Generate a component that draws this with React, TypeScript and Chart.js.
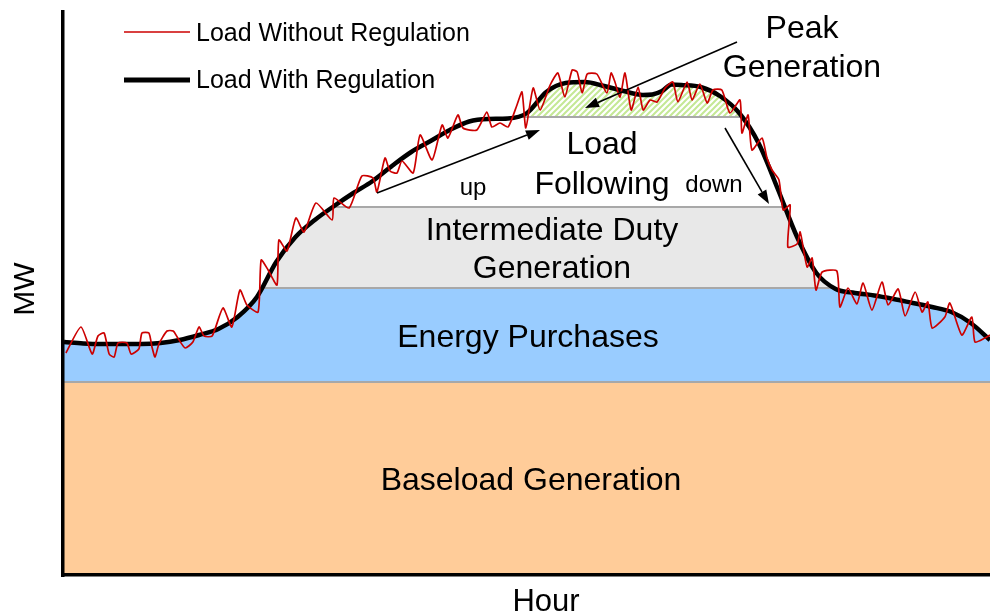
import { useEffect, useRef } from 'react';
import { Chart, registerables } from 'chart.js';

Chart.register(...registerables);

// Load with regulation (smooth), MW by hour
const hours = [0, 0.5, 1, 1.5, 2, 2.5, 3, 3.5, 4, 4.5, 5, 5.5, 6, 6.5, 7, 7.5, 8, 8.5, 9, 9.5, 10, 10.5, 11, 11.5, 12, 12.5, 13, 13.5, 14, 14.5, 15, 15.25, 15.5, 15.75, 16, 16.5, 17, 17.5, 18, 18.5, 19, 19.5, 20, 20.5, 21, 21.5, 22, 22.5, 23, 23.5, 24];
const loadWithRegulation = [466, 463, 462, 462, 462, 464, 470, 480, 492, 516, 556, 626, 676, 710, 738, 764, 788, 818, 846, 868, 890, 907, 912, 913, 924, 966, 984, 986, 978, 968, 960, 961, 968, 981, 980, 976, 958, 924, 864, 772, 676, 604, 572, 564, 559, 552, 544, 536, 526, 504, 470];

// Load without regulation (noisy)
const noisyHours = [0.05, 0.44, 0.73, 0.88, 1.04, 1.17, 1.30, 1.40, 1.63, 1.74, 1.94, 2.02, 2.20, 2.28, 2.36, 2.46, 2.67, 2.83, 2.95, 3.14, 3.34, 3.50, 3.63, 3.84, 4.12, 4.35, 4.56, 4.74, 5.03, 5.11, 5.29, 5.52, 5.57, 5.78, 6.01, 6.22, 6.53, 6.95, 7.00, 7.39, 7.72, 8.01, 8.11, 8.32, 8.45, 8.63, 8.76, 9.05, 9.23, 9.54, 9.80, 9.95, 10.21, 10.34, 10.70, 10.96, 11.09, 11.30, 11.51, 11.74, 11.87, 11.97, 12.16, 12.34, 12.60, 12.80, 12.98, 13.17, 13.30, 13.43, 13.56, 13.81, 14.07, 14.18, 14.28, 14.41, 14.54, 14.70, 14.88, 15.01, 15.19, 15.37, 15.58, 15.78, 15.91, 16.15, 16.28, 16.48, 16.67, 16.82, 17.05, 17.26, 17.52, 17.57, 17.73, 17.83, 18.09, 18.22, 18.35, 18.53, 18.64, 18.82, 18.76, 19.00, 19.08, 19.26, 19.39, 19.49, 19.65, 20.03, 20.11, 20.32, 20.55, 20.71, 20.94, 21.20, 21.36, 21.62, 21.80, 22.06, 22.24, 22.39, 22.50, 22.83, 22.96, 23.27, 23.53, 23.61, 23.87, 24.00];
const noisyLoad = [444, 496, 442, 478, 484, 442, 436, 464, 464, 442, 452, 484, 484, 456, 436, 462, 488, 488, 474, 454, 466, 496, 478, 478, 534, 496, 570, 540, 526, 630, 610, 580, 670, 648, 714, 686, 744, 710, 754, 734, 798, 794, 766, 834, 808, 804, 828, 804, 880, 830, 900, 874, 920, 894, 890, 926, 896, 904, 896, 940, 966, 894, 974, 930, 980, 1004, 956, 1010, 1006, 964, 1002, 1002, 964, 1004, 986, 956, 1004, 930, 976, 930, 950, 946, 974, 986, 946, 986, 950, 982, 944, 970, 970, 924, 950, 884, 920, 850, 874, 834, 810, 790, 730, 740, 656, 662, 686, 616, 634, 570, 606, 608, 536, 574, 542, 584, 530, 586, 540, 572, 518, 566, 526, 546, 494, 516, 544, 480, 516, 466, 474, 480];

// Generation bands: lower boundary level (MW) of each band
const bandNames = ['Baseload Generation', 'Energy Purchases', 'Intermediate Duty Generation', 'Load Following', 'Peak Generation'];
const bandLevels = [0, 386, 574, 736, 916];

const FONT = '"Liberation Sans", Arial, Helvetica, sans-serif';

function makeHatch(): CanvasPattern | string {
  const c = document.createElement('canvas');
  c.width = 6;
  c.height = 6;
  const g = c.getContext('2d');
  if (!g) return '#d8f0b0';
  g.fillStyle = '#ffffff';
  g.fillRect(0, 0, 6, 6);
  g.strokeStyle = '#c4e895';
  g.lineWidth = 2;
  g.beginPath();
  g.moveTo(-2, 8); g.lineTo(8, -2);
  g.moveTo(-2, 2); g.lineTo(2, -2);
  g.moveTo(4, 8); g.lineTo(8, 4);
  g.stroke();
  const p = g.createPattern(c, 'repeat');
  return p || '#d8f0b0';
}

function arrow(ctx: CanvasRenderingContext2D, x1: number, y1: number, x2: number, y2: number) {
  const ang = Math.atan2(y2 - y1, x2 - x1);
  const hl = 14, hw = 5;
  const bx = x2 - hl * Math.cos(ang), by = y2 - hl * Math.sin(ang);
  ctx.beginPath();
  ctx.moveTo(x1, y1);
  ctx.lineTo(bx, by);
  ctx.lineWidth = 1.6;
  ctx.strokeStyle = '#000';
  ctx.stroke();
  ctx.beginPath();
  ctx.moveTo(x2, y2);
  ctx.lineTo(bx + hw * Math.sin(ang), by - hw * Math.cos(ang));
  ctx.lineTo(bx - hw * Math.sin(ang), by + hw * Math.cos(ang));
  ctx.closePath();
  ctx.fillStyle = '#000';
  ctx.fill();
}

function text(ctx: CanvasRenderingContext2D, s: string, x: number, y: number, size: number, align: CanvasTextAlign = 'center') {
  ctx.font = `${size}px ${FONT}`;
  ctx.textAlign = align;
  ctx.textBaseline = 'alphabetic';
  ctx.fillStyle = '#000';
  ctx.fillText(s, x, y);
}

const overlayPlugin = {
  id: 'overlay',
  beforeDatasetDraw(chart: any, args: any) {
    if (args.index !== 1) return;
    const { ctx, chartArea: a, scales } = chart;
    const line = chart.getDatasetMeta(2).dataset as any;
    ctx.save();
    ctx.beginPath();
    if (line && typeof line.path === 'function') {
      line.path(ctx);
    } else {
      const pts = chart.getDatasetMeta(2).data;
      pts.forEach((p: any, i: number) => (i ? ctx.lineTo(p.x, p.y) : ctx.moveTo(p.x, p.y)));
    }
    ctx.lineTo(a.right, a.bottom);
    ctx.lineTo(a.left, a.bottom);
    ctx.closePath();
    ctx.clip();
    ctx.strokeStyle = '#a8a8a8';
    ctx.lineWidth = 2;
    for (const lv of bandLevels.slice(1)) {
      const y = scales.y.getPixelForValue(lv);
      ctx.beginPath();
      ctx.moveTo(a.left, y);
      ctx.lineTo(a.right, y);
      ctx.stroke();
    }
    ctx.restore();
  },
  afterDraw(chart: any) {
    const { ctx, chartArea: a } = chart;
    ctx.save();
    // axes
    ctx.fillStyle = '#000';
    ctx.fillRect(a.left - 3, a.top, 3.5, a.bottom - a.top + 2);
    ctx.fillRect(a.left - 3, a.bottom - 2, a.right - a.left + 3, 3.5);

    // legend
    ctx.strokeStyle = '#cc0000';
    ctx.lineWidth = 1.5;
    ctx.beginPath(); ctx.moveTo(124, 32); ctx.lineTo(190, 32); ctx.stroke();
    ctx.strokeStyle = '#000';
    ctx.lineWidth = 5;
    ctx.beginPath(); ctx.moveTo(124, 80); ctx.lineTo(190, 80); ctx.stroke();
    text(ctx, 'Load Without Regulation', 196, 41, 25, 'left');
    text(ctx, 'Load With Regulation', 196, 88, 25, 'left');

    // region labels
    text(ctx, 'Peak', 802, 38, 32);
    text(ctx, 'Generation', 802, 77, 32);
    text(ctx, 'Load', 602, 154, 32);
    text(ctx, 'Following', 602, 194, 32);
    text(ctx, 'up', 473, 195, 24);
    text(ctx, 'down', 714, 192, 24);
    text(ctx, 'Intermediate Duty', 552, 240, 32);
    text(ctx, 'Generation', 552, 278, 32);
    text(ctx, bandNames[1], 528, 347, 32);
    text(ctx, bandNames[0], 531, 490, 32);

    // axis titles
    text(ctx, 'Hour', 546, 611, 31);
    ctx.save();
    ctx.translate(34, 289);
    ctx.rotate(-Math.PI / 2);
    text(ctx, 'MW', 0, 0, 30);
    ctx.restore();

    // arrows
    arrow(ctx, 377, 193, 540, 130);
    arrow(ctx, 725, 128, 769, 204);
    arrow(ctx, 737, 42, 585, 108);
    ctx.restore();
  },
};

export default function App() {
  const ref = useRef<HTMLCanvasElement>(null);

  useEffect(() => {
    const canvas = ref.current;
    if (!canvas) return;
    const hatch = makeHatch();
    const loadPts = () => hours.map((h, i) => ({ x: h, y: loadWithRegulation[i] }));
    const noisyPts = noisyHours.map((h, i) => ({ x: h, y: noisyLoad[i] }));
    const clear = 'rgba(0,0,0,0)';
    const bandFill = (level: number, color: any, order: number) => ({
      type: 'line' as const,
      label: 'band' + order,
      data: loadPts(),
      borderWidth: 0,
      borderColor: clear,
      backgroundColor: clear,
      pointRadius: 0,
      cubicInterpolationMode: 'monotone' as const,
      fill: { target: { value: level }, above: color, below: clear },
      order,
    });

    const chart = new Chart(canvas, {
      type: 'line',
      data: {
        datasets: [
          {
            label: 'Load Without Regulation',
            data: noisyPts,
            borderColor: '#cc0000',
            borderWidth: 1.7,
            pointRadius: 0,
            tension: 0.2,
            fill: false,
            order: 0,
          },
          {
            label: 'Load With Regulation',
            data: loadPts(),
            borderColor: '#000000',
            borderWidth: 4.5,
            pointRadius: 0,
            cubicInterpolationMode: 'monotone',
            fill: false,
            order: 1,
          },
          bandFill(bandLevels[4], hatch, 2),
          bandFill(bandLevels[3], '#ffffff', 3),
          bandFill(bandLevels[2], '#e8e8e8', 4),
          bandFill(bandLevels[1], '#99ccff', 5),
          {
            label: bandNames[0],
            data: [{ x: 0, y: bandLevels[1] }, { x: 24, y: bandLevels[1] }],
            borderColor: '#a8a8a8',
            borderWidth: 1.5,
            backgroundColor: '#ffcc99',
            pointRadius: 0,
            fill: 'origin',
            order: 6,
          },
        ] as any,
      },
      options: {
        animation: false,
        responsive: false,
        events: [],
        layout: { padding: { left: 64, right: 0, top: 10, bottom: 41 } },
        scales: {
          x: { type: 'linear', min: 0, max: 24, display: false },
          y: { type: 'linear', min: 0, max: 1130, display: false },
        },
        plugins: {
          legend: { display: false },
          tooltip: { enabled: false },
        },
      },
      plugins: [overlayPlugin],
    });
    return () => chart.destroy();
  }, []);

  return (
    <div style={{ position: 'fixed', left: 0, top: 0, width: 990, height: 616, background: '#ffffff' }}>
      <canvas ref={ref} width={990} height={616} style={{ display: 'block', width: 990, height: 616 }} />
    </div>
  );
}
